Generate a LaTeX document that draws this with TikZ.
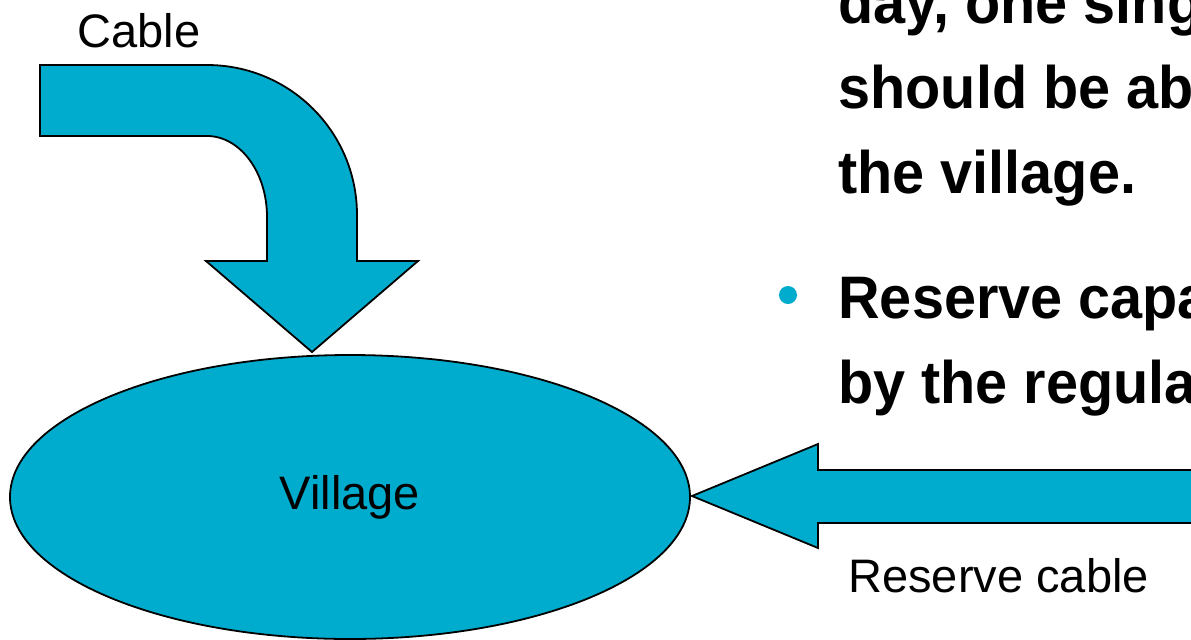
\documentclass[tikz,border=0pt]{standalone}
\usepackage{fontspec}
\setmainfont{Liberation Sans}
\newfontfamily\slidefont[FakeStretch=0.96]{Liberation Sans}
\usetikzlibrary{positioning}
\usetikzlibrary{shapes.geometric}
\definecolor{cabteal}{RGB}{0,172,205}

\begin{document}
\begin{tikzpicture}[x=0.5pt,y=-0.5pt,
    blockarrow/.style={draw=black, fill=cabteal, line width=0.9pt, line join=miter},
    lbl/.style={font=\fontsize{23.5}{28}\selectfont, inner sep=0pt},
    para/.style={font=\slidefont\bfseries\fontsize{30}{36}\selectfont, anchor=base west, inner sep=0pt}]
    \useasboundingbox (0,0) rectangle (1191,639);
    \clip (0,0) rectangle (1191,639);
    % village
    \node[ellipse, draw=black, fill=cabteal, line width=0.9pt, minimum width=340pt, minimum height=142pt, lbl] (village) at (350,497) {Village};
    % main cable
    \coordinate (c_tip) at (312,352);
    \draw[blockarrow] (40,65) -- (207,65) .. controls (290,65) and (357,132) .. (357,215)
        -- (357,261) -- (418,261) -- (c_tip) -- (206,261) -- (267,261) -- (267,217)
        .. controls (267,172) and (240,136) .. (207,136) -- (40,136) -- cycle;
    \node[lbl, anchor=base west] (cable) at (77,47) {Cable};
    % reserve cable
    \coordinate (r_tip) at (692,496);
    \draw[blockarrow] (r_tip) -- (818,444) -- (818,470) -- (1200,470) -- (1200,523)
        -- (818,523) -- (818,548) -- cycle;
    \node[lbl, anchor=base west] (reserve) at (848,592) {Reserve cable};
    % slide text
    \node[para] (t_1) at (838,23) {day, one sing};
    \node[para] (t_2) at (838,108) {should be ab};
    \node[para] (t_3) at (838,193) {the village.};
    \node[circle, fill=cabteal, inner sep=0pt, minimum size=9pt] (bullet) at (788,295) {};
    \node[para] (t_4) at (838,318) {Reserve capa};
    \node[para] (t_5) at (838,403) {by the regula};
\end{tikzpicture}
\end{document}
